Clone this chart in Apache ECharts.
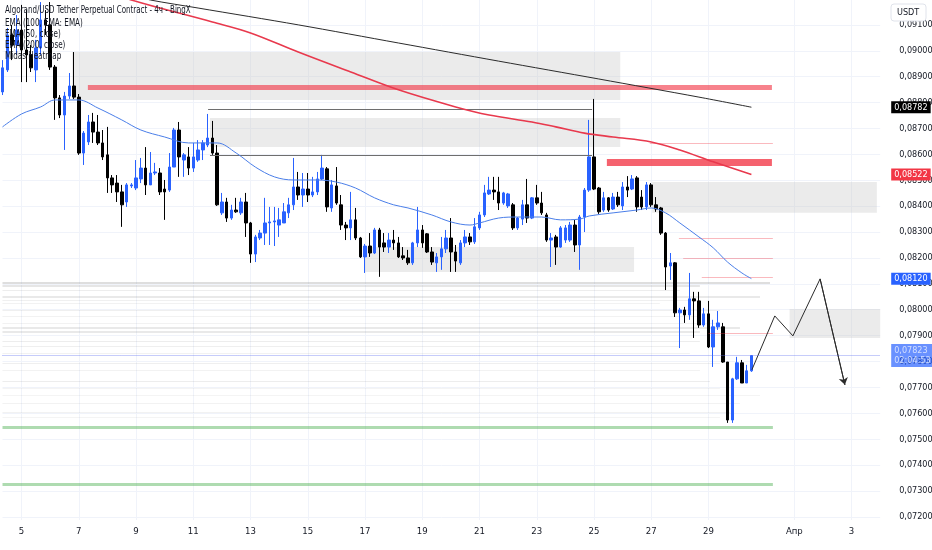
<!DOCTYPE html>
<html><head><meta charset="utf-8">
<script src="https://cdn.jsdelivr.net/npm/echarts@6/dist/echarts.min.js"></script>
<style>html,body{margin:0;padding:0;background:#fff}#c{width:932px;height:550px}</style>
</head><body><div id="c"></div>
<script>
// all prices in units of 0.00001 USDT
const openP = [
8841,8926,9061,9022,9080,9003,8984,8926,9011,9119,
9100,8937,8818,8752,8825,8864,8821,8605,8648,8725,
8686,8644,8598,8509,8489,8455,8416,8478,8470,8505,
8547,8482,8528,8528,8466,8462,8551,8694,8578,8590,
8547,8578,8617,8636,8663,8605,8374,8416,8354,8385,
8374,8416,8335,8215,8277,8296,8335,8339,8327,8335,
8374,8405,8474,8443,8466,8443,8455,8505,8544,8393,
8478,8405,8327,8316,8347,8277,8204,8246,8219,8308,
8258,8242,8269,8258,8208,8200,8181,8258,8308,8293,
8223,8181,8204,8235,8277,8223,8181,8258,8281,8262,
8316,8366,8447,8462,8455,8412,8401,8405,8316,8350,
8405,8354,8432,8412,8366,8269,8281,8242,8269,8269,
8327,8250,8358,8462,8590,8470,8385,8432,8389,8435,
8401,8474,8466,8509,8435,8397,8482,8405,8393,8296,
8169,8181,7988,7999,7980,8042,8034,7941,7984,7856,
7934,7934,7798,7574,7733,7795,7717,7764];
const closeP = [
8934,9061,9022,9080,9003,8984,8934,9011,9119,9100,
8937,8818,8752,8825,8864,8821,8605,8682,8725,8686,
8644,8590,8509,8482,8455,8405,8482,8482,8509,8547,
8482,8528,8532,8455,8455,8551,8694,8590,8598,8547,
8590,8617,8644,8663,8605,8405,8416,8354,8385,8378,
8416,8335,8215,8281,8296,8335,8339,8343,8347,8378,
8405,8474,8443,8466,8443,8455,8505,8547,8397,8482,
8412,8327,8316,8347,8277,8204,8246,8219,8308,8242,
8242,8269,8258,8204,8200,8181,8258,8308,8258,8223,
8184,8204,8235,8277,8223,8188,8258,8281,8262,8320,
8366,8451,8462,8455,8412,8451,8447,8316,8354,8405,
8354,8432,8412,8374,8269,8277,8242,8316,8316,8327,
8250,8358,8462,8590,8466,8378,8432,8385,8435,8405,
8474,8462,8505,8397,8397,8482,8405,8389,8296,8165,
8181,7988,7999,7980,8042,8034,7941,7984,7856,7934,
7949,7798,7574,7733,7795,7717,7764,7823];
const highP = [
8964,9088,9100,9138,9177,9157,9022,9042,9188,9157,
9188,8945,8829,8841,8914,8995,8833,8690,8752,8760,
8752,8694,8706,8520,8520,8482,8489,8489,8578,8586,
8628,8609,8567,8547,8501,8605,8702,8725,8605,8628,
8644,8655,8655,8756,8729,8636,8451,8432,8405,8432,
8432,8451,8339,8289,8308,8432,8397,8397,8393,8412,
8432,8586,8532,8528,8528,8513,8532,8598,8551,8501,
8551,8443,8339,8455,8393,8281,8254,8296,8316,8316,
8296,8296,8308,8281,8242,8231,8262,8397,8327,8296,
8242,8219,8281,8308,8354,8250,8269,8308,8296,8354,
8378,8482,8513,8513,8513,8455,8451,8412,8358,8424,
8505,8435,8482,8455,8374,8296,8289,8323,8327,8339,
8347,8366,8470,8733,8814,8474,8455,8435,8451,8455,
8493,8516,8520,8516,8462,8493,8489,8435,8397,8300,
8219,8184,8007,8011,8142,8069,8069,8007,8034,7961,
7995,7949,7798,7737,7818,7806,7787,7825];
const lowP = [
8829,8918,8964,8984,8879,8879,8918,8879,8984,9061,
8926,8733,8740,8617,8814,8814,8598,8559,8636,8644,
8636,8578,8451,8451,8416,8320,8397,8470,8462,8489,
8443,8482,8520,8443,8347,8455,8551,8513,8513,8520,
8532,8571,8578,8628,8598,8401,8366,8339,8347,8374,
8366,8281,8181,8184,8269,8250,8250,8246,8281,8335,
8354,8385,8424,8397,8416,8435,8443,8501,8378,8378,
8405,8308,8269,8269,8269,8200,8142,8204,8215,8127,
8223,8219,8231,8200,8192,8173,8173,8242,8239,8219,
8173,8146,8154,8219,8146,8146,8173,8242,8250,8254,
8308,8358,8443,8424,8385,8405,8393,8308,8308,8327,
8335,8350,8405,8366,8262,8165,8173,8239,8258,8262,
8223,8154,8300,8455,8462,8370,8378,8378,8385,8397,
8385,8435,8462,8378,8385,8385,8397,8378,8289,8076,
8115,7972,7852,7949,7961,7891,7930,7934,7852,7779,
7922,7795,7563,7563,7729,7717,7717,7760];

// moving averages: [candle index, price]
const ema50 = [[0,8706],[4,8756],[8,8783],[11,8810],[16,8810],[20,8779],[25,8733],[29,8694],[34,8667],[39,8644],[45,8644],[49,8605],[53,8551],[57,8513],[61,8501],[66,8501],[70,8493],[74,8470],[78,8432],[82,8405],[85,8393],[90,8366],[94,8339],[98,8327],[100,8335],[104,8354],[108,8358],[113,8358],[117,8347],[121,8350],[123,8362],[128,8374],[133,8385],[136,8393],[139,8374],[142,8335],[146,8281],[149,8239],[152,8184],[155,8142],[157,8120]];
const ema100 = [[25,9215],[27,9196],[44,9111],[52,9069],[62,8995],[73,8918],[83,8849],[95,8783],[102,8752],[111,8725],[116,8706],[122,8682],[128,8667],[136,8648],[142,8617],[149,8571],[157,8522]];
const ema200 = [[29,9208],[31,9196],[41,9165],[62,9100],[83,9030],[104,8960],[125,8891],[146,8821],[157,8782]];

// drawn zones: [fromIndex, toIndex, topPrice, bottomPrice]
const zones = [[14.6,129.5,8995,8810],[43.5,129.5,8740,8628],[136.2,183.3,8493,8374],[76,132.4,8242,8146],[165,184.2,8003,7891]];
// horizontal levels: [fromIndex, toIndex, price]
const redThick = [[17.9,161.3,8860],[126.7,161.3,8571]];
const redThin = [[135.7,161.5,8644],[141.8,161.5,8277],[142.7,161.5,8200],[146.6,161.5,8127],[148,161.5,7910]];
const greenLevels = [[0,161.5,7547],[0,161.5,7327]];
const grayLevels = [[43.1,123.6,8775],[43.5,123.6,8598]];
// heatmap levels
const heatPrice = [8103,8092,8076,8049,8038,8026,7999,7976,7949,7930,7914,7879,7860,7833,7795,7767,7725,7698,7671,7640,7605,7586];
const heatEnd = [160.9,146.2,142,158.8,146.2,137.8,150.4,146.2,150.4,154.6,146.2,146.2,142,144.1,150.4,146.2,148.3,150.4,158.8,154.6,152.5,150.4];
const heatLevel = [0.9,0.7,0.5,0.6,0.4,0.35,0.45,0.35,0.35,0.6,0.6,0.5,0.45,0.35,0.45,0.35,0.5,0.3,0.3,0.35,0.35,0.3];
// projected path
const projX = [157.1,161.9,165.7,171.4,176.6];
const projY = [7768,7976,7899,8119,7710];
// price tags
const tagEMA200 = 8782, tagEMA100 = 8522, tagEMA50 = 8120, lastPrice = 7823, countdown = '02:04:53';
// axes
const yTicks = [7200,7300,7400,7500,7600,7700,7800,7900,8000,8100,8200,8300,8400,8500,8600,8700,8800,8900,9000,9100];
const tickDays = [5,7,9,11,13,15,17,19,21,23,25,27,29,32,34];
const tickLabels = ['5','7','9','11','13','15','17','19','21','23','25','27','29','Апр','3'];
const slotCount = 185;

const FONT = "'Liberation Sans Narrow','DejaVu Sans Condensed',sans-serif";
const fmt = v => (v / 1e5).toFixed(5).replace('.', ',');

const categories = [];
const tickMap = new Map();
for (let i = 0; i < slotCount; i++) {
  const hours = 8 + 4 * i;
  const day = 4 + Math.floor(hours / 24);
  const hr = hours % 24;
  categories.push((day > 31 ? 'Apr ' + (day - 31) : 'Mar ' + day) + ' ' + String(hr).padStart(2, '0') + ':00');
  const k = tickDays.indexOf(day);
  if (hr === 0 && k >= 0) tickMap.set(i, tickLabels[k]);
}
const candles = openP.map((o, i) => [o, closeP[i], lowP[i], highP[i]]);

const seg = (arr, style) => arr.map(a => [{coord: [a[0], a[2]], lineStyle: style}, {coord: [a[1], a[2]]}]);
const heatSegs = heatPrice.map((p, i) => [{coord: [0, p], lineStyle: {color: 'rgba(120,120,120,' + (heatLevel[i] * 0.27).toFixed(3) + ')', width: heatLevel[i] >= 0.6 ? 2 : 1, type: 'solid'}}, {coord: [heatEnd[i], p]}]);

const tagLabel = {show: true, position: 'end', distance: 11, color: '#ffffff', fontSize: 9, fontFamily: FONT, padding: [2, 3, 1, 3]};

const chart = echarts.init(document.getElementById('c'), null, {renderer: 'canvas'});
chart.setOption({
  animation: false,
  backgroundColor: '#ffffff',
  grid: {left: 2.5, right: 51.8, top: 0, bottom: 30, containLabel: false, outerBoundsMode: 'none'},
  xAxis: [{
    type: 'category', data: categories, boundaryGap: false,
    axisLine: {show: false}, axisTick: {show: false},
    axisLabel: {interval: idx => tickMap.has(idx), formatter: (v, idx) => tickMap.get(idx) || '', color: '#131722', fontSize: 9.5, fontFamily: FONT, margin: 7},
    splitLine: {show: true, interval: idx => tickMap.has(idx), lineStyle: {color: '#f0f3fa', width: 1}}
  }, {
    type: 'value', min: 0, max: slotCount - 1, show: false
  }],
  yAxis: [{
    type: 'value', position: 'right', min: 7188, max: 9196, scale: true,
    axisLine: {show: false}, axisTick: {show: false}, splitLine: {show: false},
    axisLabel: {customValues: yTicks, formatter: v => fmt(v), color: '#131722', fontSize: 9, fontFamily: FONT, margin: 19}
  }],
  series: [
    {
      type: 'line', xAxisIndex: 1, data: [], silent: true, z: 0,
      markLine: {silent: true, symbol: ['none', 'none'], z: 0, label: {show: false},
        lineStyle: {color: '#f0f3fa', width: 1, type: 'solid'},
        data: yTicks.map(v => ({yAxis: v}))}
    },
    {
      type: 'line', xAxisIndex: 1, data: [], silent: true, z: 1,
      markArea: {silent: true, z: 1, itemStyle: {color: 'rgba(195,195,195,0.33)'},
        data: zones.map(z => [{coord: [z[0], z[2]]}, {coord: [z[1], z[3]]}])},
      markLine: {silent: true, symbol: ['none', 'none'], z: 1, label: {show: false},
        lineStyle: {type: 'solid'},
        data: heatSegs.concat(seg(greenLevels, {color: 'rgba(76,175,80,0.45)', width: 3, type: 'solid'}))}
    },
    {
      type: 'candlestick', xAxisIndex: 0, data: candles, barWidth: 3, z: 2,
      itemStyle: {color: '#2962ff', color0: '#000000', borderColor: '#2962ff', borderColor0: '#000000', borderWidth: 1}
    },
    {
      type: 'line', xAxisIndex: 1, data: [], silent: true, z: 3,
      markLine: {silent: true, symbol: ['none', 'none'], z: 3, label: {show: false},
        lineStyle: {type: 'solid'},
        data: seg(redThick.slice(0, 1), {color: 'rgba(242,54,69,0.62)', width: 5, type: 'solid'})
          .concat(seg(redThick.slice(1), {color: 'rgba(242,54,69,0.78)', width: 7, type: 'solid'}))
          .concat(seg(redThin, {color: 'rgba(242,54,69,0.35)', width: 1, type: 'solid'}))
          .concat(seg(grayLevels, {color: '#6e6e6e', width: 1, type: 'solid'}))}
    },
    {name: 'EMA (50, close)', type: 'line', xAxisIndex: 1, data: ema50, smooth: 0.35, symbol: 'none', z: 4, lineStyle: {color: '#4a7ee8', width: 1}},
    {name: 'EMA (100, EMA: EMA)', type: 'line', xAxisIndex: 1, data: ema100, smooth: 0.35, symbol: 'none', z: 4, lineStyle: {color: '#e8394d', width: 1.6}},
    {name: 'EMA (200, close)', type: 'line', xAxisIndex: 1, data: ema200, smooth: 0.3, symbol: 'none', z: 4, lineStyle: {color: '#2b2b2b', width: 1}},
    {
      type: 'line', xAxisIndex: 1, data: projX.map((x, i) => [x, projY[i]]), symbol: 'none', z: 4,
      lineStyle: {color: '#2b2b2b', width: 1},
      markLine: {silent: true, symbol: ['none', 'arrow'], symbolSize: 7, z: 4, label: {show: false},
        lineStyle: {color: '#2b2b2b', width: 1, type: 'solid'},
        data: [[{coord: [projX[3], projY[3]]}, {coord: [projX[4], projY[4]]}]]}
    },
    {
      type: 'line', xAxisIndex: 1, data: [], silent: true, z: 5,
      markLine: {silent: true, symbol: ['none', 'none'], z: 5,
        lineStyle: {color: '#5b6cf0', type: 'dotted', width: 1, opacity: 0.7},
        label: Object.assign({}, tagLabel, {backgroundColor: '#2962ff', lineHeight: 10, padding: [2, 3, 1, 3], formatter: p => fmt(p.value) + '\n' + countdown}),
        data: [{yAxis: lastPrice}]}
    },
    {
      type: 'line', xAxisIndex: 1, data: [], silent: true, z: 6,
      markLine: {silent: true, symbol: ['none', 'none'], z: 6,
        lineStyle: {color: 'rgba(0,0,0,0)', width: 1, type: 'solid'},
        label: Object.assign({}, tagLabel, {formatter: p => fmt(p.value)}),
        data: [
          {yAxis: tagEMA200, label: {backgroundColor: '#000000'}},
          {yAxis: tagEMA100, label: {backgroundColor: '#f23645'}},
          {yAxis: tagEMA50, label: {backgroundColor: '#2962ff'}}
        ]}
    }
  ],
  graphic: [
    {type: 'text', x: 5, y: 5, scaleX: 0.75, z: 10, style: {x: 0, y: 0, text: 'Algorand/USD Tether Perpetual Contract - 4ч - BingX', font: '10.5px ' + FONT, fill: '#131722', verticalAlign: 'top'}},
    {type: 'text', x: 5, y: 18, scaleX: 0.8, z: 10, style: {x: 0, y: 0, text: 'EMA (100, EMA: EMA)', font: '10px ' + FONT, fill: '#131722', verticalAlign: 'top'}},
    {type: 'text', x: 5, y: 29, scaleX: 0.8, z: 10, style: {x: 0, y: 0, text: 'EMA (50, close)', font: '10px ' + FONT, fill: '#131722', verticalAlign: 'top'}},
    {type: 'text', x: 5, y: 40, scaleX: 0.8, z: 10, style: {x: 0, y: 0, text: 'EMA (200, close)', font: '10px ' + FONT, fill: '#131722', verticalAlign: 'top'}},
    {type: 'text', x: 5, y: 51, scaleX: 0.8, z: 10, style: {x: 0, y: 0, text: 'Midas Heatmap', font: '10px ' + FONT, fill: '#131722', verticalAlign: 'top'}},
    {type: 'rect', x: 891, y: 4, z: 10, shape: {x: 0, y: 0, width: 35, height: 17, r: 3}, style: {fill: '#ffffff', stroke: '#e0e3eb', lineWidth: 1}},
    {type: 'text', x: 897, y: 8, z: 11, style: {x: 0, y: 0, text: 'USDT', font: '9px ' + FONT, fill: '#131722', verticalAlign: 'top'}}
  ]
});
</script>
</body></html>
